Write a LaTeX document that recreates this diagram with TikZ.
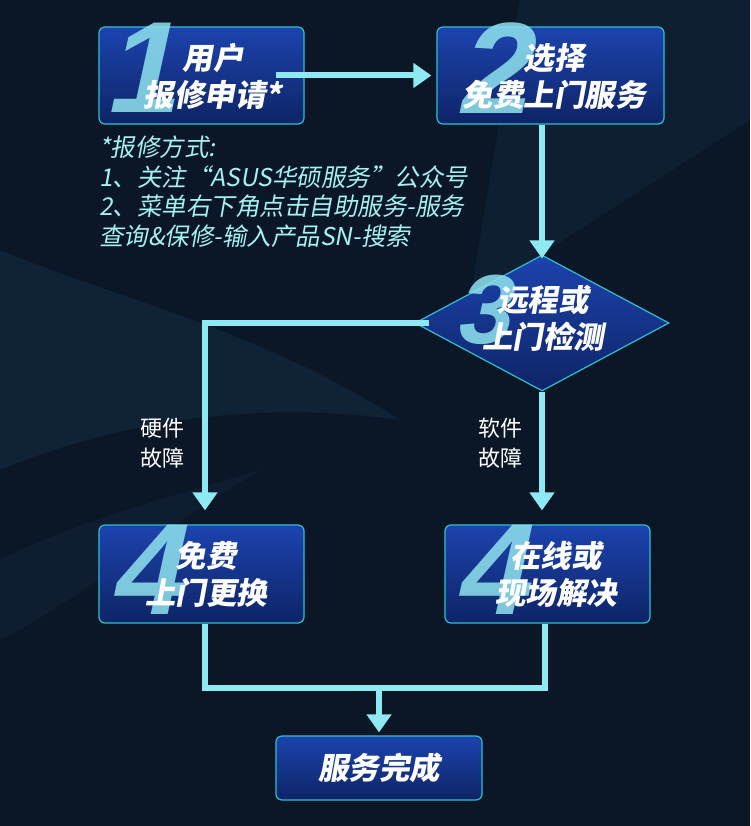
\documentclass[tikz,border=0pt]{standalone}
\usepackage{fontspec}
\usepackage{tikz}
\usetikzlibrary{arrows.meta,shapes.geometric,positioning}
\newfontfamily\cjk[FakeSlant=0.18]{Noto Sans CJK SC}
\newfontfamily\cjkup{Noto Sans CJK SC}
\newfontfamily\numfont[FakeSlant=0.22]{Liberation Sans}
\definecolor{bgdark}{HTML}{0B1726}
\definecolor{bgmid}{HTML}{15304A}
\definecolor{boxtop}{HTML}{1C43AE}
\definecolor{boxbot}{HTML}{0E2466}
\definecolor{boxline}{HTML}{2FBFCF}
\definecolor{flow}{HTML}{8EE9F2}
\definecolor{notecol}{HTML}{A3F2F2}
\definecolor{digitcol}{HTML}{8FE3EE}
\tikzset{
    flowbox/.style={draw=boxline, line width=1.2pt, rounded corners=6pt,
        top color=boxtop, bottom color=boxbot, inner sep=0pt},
    boxtext/.style={text=white, align=center, font=\cjk\bfseries\fontsize{30.5}{37}\selectfont},
    digit/.style={text=digitcol, opacity=0.85, inner sep=0pt, font=\numfont\bfseries\fontsize{130}{130}\selectfont},
    flowline/.style={draw=flow, line width=6pt},
    flowarrow/.style={flowline, -{Triangle[width=24pt,length=18pt]}},
    branchlabel/.style={text=white, align=center, font=\cjkup\fontsize{22}{30}\selectfont}
}
\begin{document}
\begin{tikzpicture}[x=1pt,y=-1pt]
    % Background
    \useasboundingbox (0,0) rectangle (750,826);
    \fill[bgdark] (0,0) rectangle (750,826);
    \fill[bgmid, opacity=0.45] (0,250) .. controls (120,300) and (260,330) .. (400,420)
        .. controls (260,400) and (120,420) .. (0,470) -- cycle;
    \fill[bgmid, opacity=0.35] (520,0) -- (750,0) -- (750,120) -- (470,300) -- cycle;
    \fill[bgmid, opacity=0.3] (0,560) .. controls (80,520) and (160,500) .. (260,470)
        .. controls (160,530) and (80,600) .. (0,640) -- cycle;

    % Step boxes
    \node[flowbox, minimum width=205pt, minimum height=97pt] (b1) at (201.5,75.5) {};
    \node[flowbox, minimum width=227pt, minimum height=97pt] (b2) at (550.5,75.5) {};
    \node[diamond, draw=boxline, line width=1.2pt, top color=boxtop, bottom color=boxbot,
        minimum width=254pt, minimum height=136pt, inner sep=0pt] (d3) at (542,323) {};
    \node[flowbox, minimum width=205pt, minimum height=98pt] (b4a) at (201.5,574) {};
    \node[flowbox, minimum width=205pt, minimum height=98pt] (b4b) at (547.5,574) {};
    \node[flowbox, minimum width=206pt, minimum height=64pt] (fin) at (379,768) {};

    % Big step numbers
    \node[digit] (n1) at (140,68) {1};
    \node[digit] (n2) at (492,68) {2};
    \node[digit, font=\numfont\bfseries\fontsize{98}{98}\selectfont] (n3) at (482,310) {3};
    \node[digit] (n4a) at (145,570) {4};
    \node[digit] (n4b) at (490,570) {4};

    % Step texts
    \node[boxtext] (t1) at (213,76) {用户\\报修申请*};
    \node[boxtext] (t2) at (554,76) {选择\\免费上门服务};
    \node[boxtext] (t3) at (543,318) {远程或\\上门检测};
    \node[boxtext] (t4a) at (206,574) {免费\\上门更换};
    \node[boxtext] (t4b) at (556,574) {在线或\\现场解决};
    \node[boxtext] (t5) at (379,768) {服务完成};

    % Note
    \node[anchor=north west, text=notecol, align=left, inner sep=0pt,
        font=\cjk\fontsize{24.5}{29.5}\selectfont] (note) at (99,136)
        {*报修方式:\\1、关注“ASUS华硕服务”公众号\\2、菜单右下角点击自助服务-服务\\查询\&保修-输入产品SN-搜索};

    % Connectors
    \draw[flowarrow] ([xshift=-29pt]b1.east) -- ([xshift=-5pt]b2.west);
    \draw[flowarrow] (d3.north |- b2.south) -- ([yshift=-4pt]d3.north);
    \draw[flowarrow, shorten >=14pt] ([xshift=15pt]d3.west) -| ([xshift=3.5pt]b4a.north);
    \draw[flowarrow, shorten >=14pt] (d3.south) -- (d3.south |- b4b.north);
    \coordinate (join) at (fin.north |- 0,688);
    \draw[flowline] ([xshift=3.5pt]b4a.south) |- (join) -| ([xshift=-2.5pt]b4b.south);
    \draw[flowarrow, shorten >=3pt] (join) -- (fin.north);

    % Branch labels
    \node[branchlabel] (hw) at (162,443) {硬件\\故障};
    \node[branchlabel] (sw) at (500,443) {软件\\故障};
\end{tikzpicture}
\end{document}
